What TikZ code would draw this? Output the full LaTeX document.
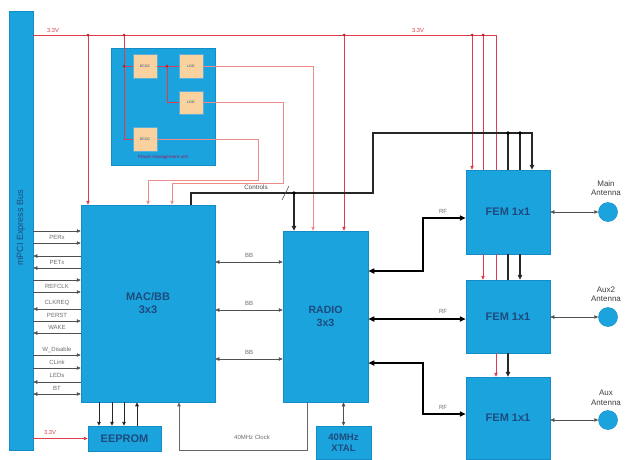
\documentclass[tikz,border=0pt]{standalone}
\usepackage{fontspec}
\setmainfont{Liberation Sans}
\usetikzlibrary{arrows.meta}
\definecolor{boxblue}{RGB}{27,163,222}
\definecolor{boxedge}{RGB}{20,140,200}
\definecolor{boxtext}{RGB}{30,75,125}
\definecolor{peach}{RGB}{250,210,160}
\definecolor{railred}{RGB}{222,60,75}
\definecolor{pinkline}{RGB}{236,140,140}
\definecolor{dotred}{RGB}{190,30,55}
\definecolor{siggray}{RGB}{80,80,80}
\definecolor{labgray}{RGB}{110,110,110}
\begin{document}
\begin{tikzpicture}[x=1pt,y=-1pt,
  bx/.style={draw=boxedge,fill=boxblue,line width=0.5pt,inner sep=0pt,text=boxtext,align=center,font=\fontsize{11}{13}\selectfont\bfseries},
  pbx/.style={draw=boxedge!70!white,fill=peach,line width=0.4pt,inner sep=0pt,minimum width=24pt,text=boxtext,font=\fontsize{3.5}{4}\selectfont},
  ant/.style={circle,draw=boxedge,fill=boxblue,line width=0.5pt,minimum size=19pt,inner sep=0pt},
  tip/.style={-{Triangle[length=4pt,width=3.4pt]}},
  dtip/.style={{Triangle[length=4pt,width=3.4pt]}-{Triangle[length=4pt,width=3.4pt]}},
  rail/.style={draw=railred,line width=0.7pt},
  pw/.style={draw=pinkline,line width=0.6pt},
  sig/.style={draw=siggray,line width=0.5pt},
  ctrl/.style={draw=black!85,line width=1.3pt},
  rf/.style={draw=black,line width=2pt,{Triangle[length=6pt,width=5pt]}-{Triangle[length=6pt,width=5pt]}},
  slab/.style={text=labgray,inner sep=0pt,font=\fontsize{6}{6.5}\selectfont},
  rlab/.style={text=railred,inner sep=0pt,font=\fontsize{5.8}{6}\selectfont},
  alab/.style={text=black!75,align=center,inner sep=0pt,font=\fontsize{8}{9.5}\selectfont},
  rdot/.style={circle,fill=dotred,inner sep=0pt,minimum size=3pt},
  bdot/.style={circle,fill=black,inner sep=0pt,minimum size=3.6pt}
]
\useasboundingbox[fill=white] (0,0) rectangle (628,459);

% ---------------- boxes
\node[bx,minimum width=24pt,minimum height=439pt] (bus) at (21,230.5) {};
\node[text=boxtext,rotate=90,font=\fontsize{9}{10}\selectfont] (buslab) at (21,228) {mPCI Express Bus};
\node[bx,minimum width=104pt,minimum height=117pt] (pmu) at (163,106.5) {};
\node[text=dotred!80!blue,inner sep=0pt,font=\fontsize{4.6}{5}\selectfont] (pmulab) at (163,157) {Power management unit};
\node[pbx,minimum height=24pt] (dcdc1) at (145,66) {DCDC};
\node[pbx,minimum height=24pt] (ldo1) at (191,66) {LDO};
\node[pbx,minimum height=23pt] (ldo2) at (191,102.5) {LDO};
\node[pbx,minimum height=24pt] (dcdc2) at (145,139) {DCDC};

\node[bx,minimum width=134pt,minimum height=197pt] (mac) at (148,303.5) {MAC/BB\\3x3};
\node[bx,minimum width=85pt,minimum height=171pt,font=\fontsize{10.5}{13}\selectfont\bfseries] (radio) at (325.5,316.5) {RADIO\\3x3};
\node[bx,minimum width=84pt,minimum height=84pt] (fem1) at (508,212) {FEM 1x1};
\node[bx,minimum width=84pt,minimum height=73pt] (fem2) at (508,316.5) {FEM 1x1};
\node[bx,minimum width=84pt,minimum height=82pt] (fem3) at (508,418) {FEM 1x1};
\node[bx,minimum width=73pt,minimum height=25pt,font=\fontsize{11}{12}\selectfont\bfseries] (eeprom) at (124.5,438.5) {EEPROM};
\node[bx,minimum width=55pt,minimum height=33pt,font=\fontsize{9.5}{11.5}\selectfont\bfseries] (xtal) at (343.5,442.5) {40MHz\\XTAL};
\node[ant] (ant1) at (608,212) {};
\node[ant] (ant2) at (608,317) {};
\node[ant] (ant3) at (608,420) {};
\node[alab] (al1) at (606,188) {Main\\Antenna};
\node[alab] (al2) at (606,294) {Aux2\\Antenna};
\node[alab] (al3) at (606,398) {Aux\\Antenna};

% ---------------- 3.3V rail
\coordinate (j88) at (88,35);
\coordinate (j124) at (124,35);
\coordinate (j344) at (344,35);
\coordinate (j472) at (472,35);
\coordinate (j483) at (483,35);
\coordinate (j124b) at (124,66);
\coordinate (j167) at (167,66);
\draw[rail] (bus.east |- j88) -- (496,35) -- (496,0 |- fem1.north);
\node[rlab] (v1) at (53,30) {3.3V};
\node[rlab] (v2) at (418,30) {3.3V};
\draw[rail,tip] (j88) -- (88,0 |- mac.north);
\draw[rail,tip] (j344) -- (344,0 |- radio.north);
\draw[rail,tip] (j472) -- (472,0 |- fem1.north);
\draw[rail] (j483) -- (483,0 |- fem1.north);
\draw[rail] (j124) -- (124,0 |- dcdc2.west) -- (dcdc2.west);
\draw[rail] (j124b) -- (dcdc1.west);
\draw[rail] (dcdc1.east) -- (ldo1.west);
\draw[rail] (j167) -- (167,0 |- ldo2.west) -- (ldo2.west);

% PMU outputs
\draw[pw,tip] (ldo1.east) -- (313,66) -- (313,0 |- radio.north);
\draw[pw,tip] (ldo2.east) -- (283,102.5) -- (283,183) -- (172,183) -- (172,0 |- mac.north);
\draw[pw,tip] (dcdc2.east) -- (258,139) -- (258,180) -- (148,180) -- (148,0 |- mac.north);

\foreach \p in {j88,j124,j344,j472,j483,j124b,j167} \node[rdot] at (\p) {};

% ---------------- controls
\coordinate (c294) at (294,193);
\coordinate (c508) at (508,133);
\coordinate (c520) at (520,133);
\draw[ctrl,-{Triangle[length=5pt,width=4.5pt]}] (191,0 |- mac.north) -- (191,193) -- (373,193) -- (373,133) -- (532,133) -- (532,0 |- fem1.north);
\draw[ctrl,-{Triangle[length=5pt,width=4.5pt]}] (c294) -- (294,0 |- radio.north);
\draw[ctrl] (c508) -- (508,0 |- fem1.north);
\draw[ctrl] (c520) -- (520,0 |- fem1.north);
\foreach \p in {c294,c508,c520} \node[bdot] at (\p) {};
\draw[black!70,line width=0.5pt] (282,200) -- (289,186);
\node[text=black!70,inner sep=0pt,font=\fontsize{6.3}{7}\selectfont] (ctl) at (256,187) {Controls};

% FEM to FEM
\draw[rail,tip] (483,0 |- fem1.south) -- (483,0 |- fem2.north);
\draw[rail] (496,0 |- fem1.south) -- (496,0 |- fem2.north);
\draw[ctrl] (508,0 |- fem1.south) -- (508,0 |- fem2.north);
\draw[ctrl,-{Triangle[length=5pt,width=4.5pt]}] (520,0 |- fem1.south) -- (520,0 |- fem2.north);
\draw[rail,tip] (496,0 |- fem2.south) -- (496,0 |- fem3.north);
\draw[ctrl,-{Triangle[length=5pt,width=4.5pt]}] (508,0 |- fem2.south) -- (508,0 |- fem3.north);

% ---------------- RF
\draw[rf] (radio.east |- 0,271) -- (423,271) -- (423,218) -- (fem1.west |- 0,218);
\draw[rf] (radio.east |- 0,319) -- (fem2.west |- 0,319);
\draw[rf] (radio.east |- 0,363) -- (423,363) -- (423,414) -- (fem3.west |- 0,414);
\node[slab] (rf1) at (443,211) {RF};
\node[slab] (rf2) at (443,311) {RF};
\node[slab] (rf3) at (443,407) {RF};

% antennas
\draw[sig,dtip] (fem1.east) -- (ant1.west);
\draw[sig,dtip] (fem2.east |- ant2.west) -- (ant2.west);
\draw[sig,dtip] (fem3.east |- ant3.west) -- (ant3.west);

% ---------------- BB
\foreach \y in {262,310,359}{
  \draw[sig,dtip] (mac.east |- 0,\y) -- (radio.west |- 0,\y);
  \node[slab] at (249,\y-7) {BB};
}

% ---------------- PCIe signals
\foreach \y in {231,243,280,292,321,355,368}
  \draw[sig,tip] (bus.east |- 0,\y) -- (mac.west |- 0,\y);
\foreach \y in {256,268,309,333,382}
  \draw[sig,tip] (mac.west |- 0,\y) -- (bus.east |- 0,\y);
\draw[sig,dtip] (bus.east |- 0,394) -- (mac.west |- 0,394);
\node[slab] (l1) at (57,237) {PERx};
\node[slab] (l2) at (57,262) {PETx};
\node[slab] (l3) at (57,286) {REFCLK};
\node[slab] (l4) at (57,303) {CLKREQ};
\node[slab] (l5) at (57,315) {PERST};
\node[slab] (l6) at (57,327) {WAKE};
\node[slab] (l7) at (57,350) {W\_Disable};
\node[slab] (l8) at (57,362) {CLink};
\node[slab] (l9) at (57,375) {LEDs};
\node[slab] (l10) at (57,388) {BT};

% ---------------- EEPROM
\foreach \x in {99,112,124}
  \draw[black!85,line width=1pt,-{Triangle[length=4pt,width=3.5pt]}] (\x,0 |- mac.south) -- (\x,0 |- eeprom.north);
\draw[black!85,line width=1pt,-{Triangle[length=4pt,width=3.5pt]}] (137,0 |- eeprom.north) -- (137,0 |- mac.south);
\draw[rail,tip] (bus.east |- eeprom.west) -- (eeprom.west);
\node[rlab] (v3) at (50,432) {3.3V};

% ---------------- clock / xtal
\draw[sig,draw=black!60,line width=0.8pt,tip] (307,0 |- radio.south) -- (307,450) -- (179,450) -- (179,0 |- mac.south);
\node[slab] (clk) at (252,437) {40MHz Clock};
\draw[sig,dtip] (radio.south -| xtal.north) -- (xtal.north);
\end{tikzpicture}
\end{document}
